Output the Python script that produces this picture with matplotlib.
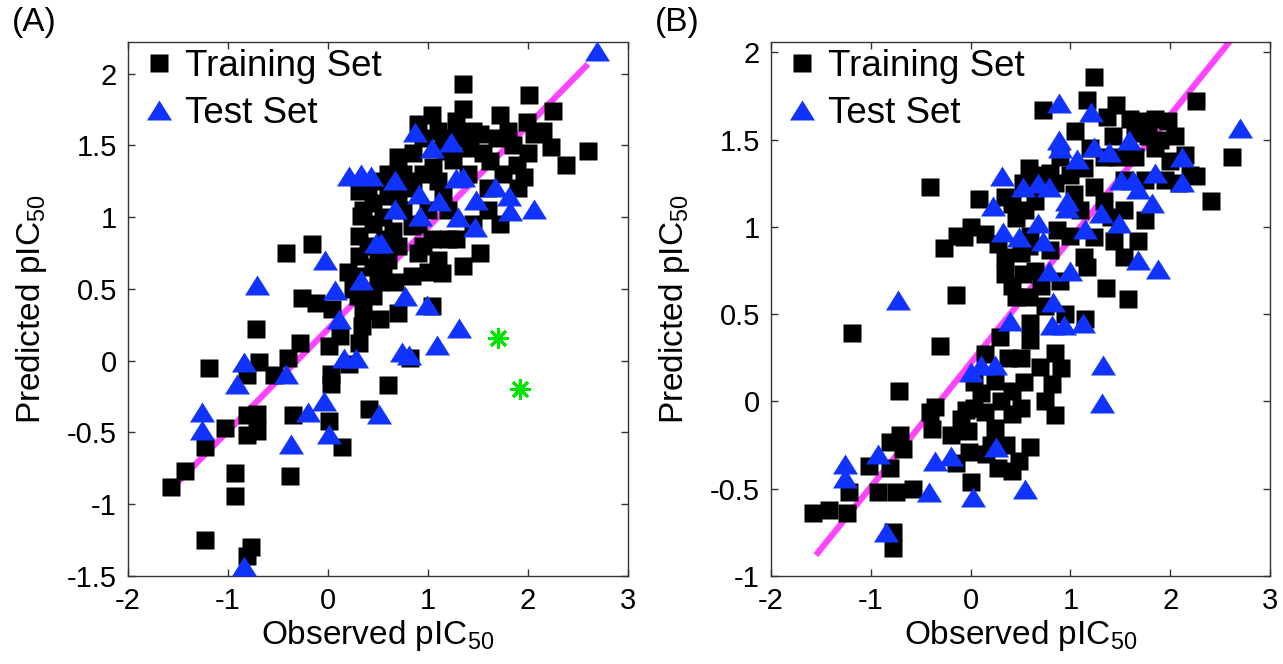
import numpy as np
import matplotlib
matplotlib.use("Agg")
import matplotlib.pyplot as plt
from matplotlib.path import Path

plt.rcParams['font.family'] = ['Liberation Sans', 'DejaVu Sans']
plt.rcParams['mathtext.fontset'] = 'custom'
plt.rcParams['mathtext.rm'] = 'Liberation Sans'
plt.rcParams['mathtext.it'] = 'Liberation Sans:italic'

# ---------------- data: panel A ----------------
a_train_x = [-0.42, -0.16, 0.31, 0.33, 0.31, 0.31, 0.28, -0.26,
             1.35, 2.01, 2.25, 2.60, 2.38, 1.96, 1.04, 1.35, 1.72, 1.99, 2.23, 1.69,
             1.52, 1.28, 0.70, 1.89, 1.62, 2.06, 1.42, 1.18,
             1.72, 1.52, 1.35, 1.14, 0.84, 0.67, 1.04, 1.28, 0.70, 0.84, 0.57,
             0.80, 0.60, 0.55, 0.95, 1.10, 1.20, 0.75, 0.45, 0.50, 0.90, 1.00, 1.45,
             1.60, 1.15, 0.95, 0.85, 0.50, 1.85, 2.15, 1.75,
             -0.72, -0.28, -0.40, -0.69, -0.81, -0.54, -1.19, 0.01, 0.12, 0.03, 0.03,
             -0.81, -0.71, -0.71, -0.81, -1.03, -1.23, -1.43, -1.57, -0.93, -0.93,
             -0.38, -0.35, 0.01, 0.14, -1.23, -0.77, -0.81, 0.41, 0.21, 0.31, 0.04,
             -0.12, 0.34, 0.70, 0.60, 0.52, 1.04, 0.82, 0.45, 0.35, 0.50, 0.25,
             0.35, 0.45, 0.40, 0.55, 0.60, 0.65, 0.70, 0.75, 0.85, 0.90, 1.00, 1.05,
             1.15, 1.20, 1.25, 1.40, 1.45, 1.55, 1.30, 0.90, 1.10, 0.60, 0.40, 0.45,
             0.95, 1.10, 1.60, 1.90, 2.00, 1.80, 0.30, 0.20]
a_train_y = [0.75, 0.81, 1.18, 1.01, 0.87, 0.73, 0.59, 0.44,
             1.93, 1.85, 1.74, 1.46, 1.36, 1.28, 1.71, 1.75, 1.71, 1.66, 1.49, 1.55,
             1.58, 1.67, 1.42, 1.36, 1.39, 1.58, 1.48, 1.46,
             0.95, 0.75, 0.66, 0.61, 0.59, 0.55, 0.85, 0.85, 0.80, 0.94, 0.85,
             1.25, 1.15, 1.00, 1.30, 1.25, 1.05, 1.05, 1.10, 0.70, 0.75, 0.62, 0.95,
             1.20, 1.55, 1.55, 1.45, 1.25, 1.50, 1.60, 1.30,
             0.22, 0.12, 0.02, -0.01, -0.10, -0.10, -0.05, 0.10, 0.17, -0.09, -0.16,
             -0.38, -0.37, -0.49, -0.52, -0.47, -0.60, -0.77, -0.88, -0.78, -0.94,
             -0.80, -0.38, -0.42, -0.60, -1.25, -1.30, -1.36, -0.34, -0.02, 0.12, 0.36,
             0.40, 0.24, 0.33, -0.17, 0.29, 0.38, 0.02, 0.45, 0.35, 0.55, 0.50,
             1.05, 0.95, 0.80, 0.60, 0.70, 0.90, 1.15, 1.30, 1.20, 0.95, 1.05, 1.35,
             1.15, 0.85, 1.40, 1.30, 1.60, 1.45, 1.55, 1.65, 1.60, 1.30, 1.20, 0.65,
             0.80, 0.70, 1.05, 1.20, 1.45, 1.60, 0.45, 0.62]

a_test_x = [0.21, 0.33, 0.43, -0.03, -0.71, 0.33, 0.07, 0.48,
            2.69, 0.87, 1.04, 1.23, 0.67, 0.91, 1.28, 1.35, 1.11, 1.67, 1.81, 1.48,
            1.30, 1.47, 1.82, 2.06, 0.92, 0.67, 0.53, 0.77, 0.99,
            -0.84, -0.91, -1.26, -1.26, -0.42, 0.11, 0.16, 0.28, -0.04, -0.20, 0.01,
            -0.37, -0.84, 0.51, 1.31, 1.09, 0.74, 0.81]
a_test_y = [1.29, 1.30, 1.29, 0.70, 0.53, 0.56, 0.49, 0.82,
            2.16, 1.59, 1.48, 1.52, 1.26, 1.16, 1.27, 1.28, 1.11, 1.21, 1.15, 1.12,
            1.00, 0.93, 1.04, 1.06, 1.01, 1.06, 0.82, 0.45, 0.39,
            -0.01, -0.16, -0.36, -0.48, -0.09, 0.29, 0.02, 0.02, -0.28, -0.36, -0.51,
            -0.58, -1.43, -0.37, 0.23, 0.11, 0.06, 0.04]

a_outlier_x = [1.70, 1.92]
a_outlier_y = [0.16, -0.20]

# ---------------- data: panel B ----------------
b_train_x = [-0.41, 0.08, 0.34, 0.41, 0.00, -0.14, -0.27, -0.07, 0.14, 0.27, 0.34, 0.34,
             0.41, -0.15,
             -1.19, -0.31, -0.72, -0.36, -0.39, -0.20, -0.03, -0.05, 0.03, 0.14, 0.24,
             -0.02, 0.00, 0.27, 0.41, 0.41, 0.41, 0.29, 0.37, 0.14, 0.03, 0.24, -0.71,
             -0.81, -0.68, -1.02, -0.81, -1.22, -0.93, -0.75, -0.58, -1.42, -1.58,
             -1.24, -0.78, -0.78, -0.41,
             1.24, 0.73, 1.17, 1.46, 1.37, 2.26, 2.62, 1.71, 1.85, 1.98, 2.05, 2.15,
             2.26, 2.41, 2.09, 1.78, 1.65, 1.43, 1.48, 1.34, 1.65, 1.54, 1.75, 1.95,
             1.14, 0.90, 0.59, 0.53, 0.80, 1.04, 1.24, 1.34, 1.41, 1.54, 1.75, 1.68,
             1.44, 1.24, 0.87, 0.80, 0.59, 1.14, 0.90, 0.71, 0.53, 1.17, 1.54, 1.36,
             1.58, 0.59,
             0.60, 1.15, 0.85, 0.91, 0.82, 0.54, 0.50, 0.85, 0.60, 0.48,
             0.45, 0.55, 0.65, 0.70, 0.85, 0.60, 0.50, 0.45, 0.65, 0.75, 1.00, 1.10,
             1.00, 0.95, 1.20, 1.05, 0.20, 0.10, -0.10, 0.30, 0.15, -0.15, 0.35, 0.50,
             0.60, 0.70, 0.75, 1.85, 1.60, 2.00, 1.90, 2.20]
b_train_y = [1.23, 1.16, 1.17, 1.13, 1.00, 0.95, 0.88, 0.94, 0.96, 0.90, 0.83, 0.73,
             0.66, 0.61,
             0.39, 0.32, 0.06, -0.03, -0.16, -0.19, -0.17, -0.05, -0.04, -0.06, -0.15,
             -0.29, -0.46, -0.38, -0.40, -0.07, 0.06, 0.37, 0.25, 0.27, 0.11, 0.12, -0.19,
             -0.23, -0.27, -0.37, -0.38, -0.52, -0.52, -0.52, -0.50, -0.62, -0.64,
             -0.64, -0.75, -0.84, -0.06,
             1.86, 1.67, 1.73, 1.70, 1.63, 1.72, 1.40, 1.61, 1.62, 1.61, 1.52, 1.41,
             1.29, 1.15, 1.25, 1.52, 1.54, 1.52, 1.40, 1.40, 1.40, 1.27, 1.27, 1.27,
             1.34, 1.40, 1.34, 1.25, 1.31, 1.19, 1.23, 1.15, 1.06, 1.10, 1.04, 0.92,
             0.92, 0.94, 0.98, 0.87, 0.89, 0.83, 0.69, 0.66, 0.73, 0.77, 0.83, 0.65,
             0.59, 0.60,
             0.45, 0.47, 0.28, 0.19, 0.10, 0.11, -0.04, -0.08, -0.26, -0.34,
             1.05, 1.10, 1.15, 1.30, 1.25, 0.95, 0.85, 0.60, 0.75, 0.55, 0.95, 1.10,
             1.30, 0.50, 1.45, 1.55, -0.25, 0.05, -0.10, 0.00, -0.30, -0.35, -0.25, 0.25,
             0.35, 0.20, 0.00, 1.45, 1.62, 1.38, 1.50, 1.30]

b_test_x = [0.31, 0.22, 0.32, -0.73,
            0.10, 0.24, 0.00, 0.39, 0.25, 0.02, -0.42, -0.20, -0.36, -0.93, -1.26,
            -1.26, -0.85,
            0.89, 1.21, 2.70, 0.89, 0.90, 1.24, 1.39, 1.07, 1.59, 2.12, 1.85, 2.12,
            1.51, 1.63, 1.68, 1.82, 0.53, 0.68, 0.79, 0.97, 0.97, 1.31, 1.49, 1.15,
            0.68, 0.73, 0.48, 1.68, 1.88, 0.79, 1.00, 0.83,
            0.82, 0.94, 1.13, 1.33, 1.32, 0.55]
b_test_y = [1.29, 1.12, 0.97, 0.58,
            0.21, 0.21, 0.17, 0.46, -0.26, -0.55, -0.52, -0.31, -0.34, -0.30, -0.36,
            -0.44, -0.75,
            1.71, 1.66, 1.57, 1.50, 1.45, 1.46, 1.43, 1.39, 1.50, 1.40, 1.31, 1.26,
            1.27, 1.27, 1.22, 1.14, 1.23, 1.25, 1.23, 1.15, 1.11, 1.08, 1.02, 0.99,
            1.02, 0.92, 0.94, 0.81, 0.76, 0.75, 0.75, 0.57,
            0.44, 0.44, 0.45, 0.21, -0.01, -0.50]

# fitted line (predicted = slope * observed + intercept)
fit_slope = 0.71
fit_intercept = 0.22
fit_x = [-1.55, 2.60]

# ---------------- styling ----------------
BLUE = '#1133FF'
MAGENTA = '#FF44FF'
GREEN = '#00E600'
tri = Path([(0, 0.8), (-1, -0.8), (1, -0.8), (0, 0.8)],
           [Path.MOVETO, Path.LINETO, Path.LINETO, Path.CLOSEPOLY])
SQ_SIZE = 13.5
TRI_SIZE = 18

fig = plt.figure(figsize=(12.83, 6.64), dpi=100)
W, H = 1283, 664
axA = fig.add_axes([128 / W, (H - 576) / H, 500 / W, 534 / H])
axB = fig.add_axes([771 / W, (H - 576) / H, 499 / W, 534 / H])


def draw_panel(ax, tx, ty, sx, sy, ylim, yticks, yticklabels):
    fx = np.array(fit_x)
    ax.plot(fx, fit_slope * fx + fit_intercept, color=MAGENTA, lw=4.5,
            solid_capstyle='butt', zorder=1)
    ax.plot(tx, ty, ls='none', marker='s', ms=SQ_SIZE, mfc='black', mec='none',
            label='Training Set', zorder=2)
    ax.plot(sx, sy, ls='none', marker=tri, ms=TRI_SIZE, mfc=BLUE, mec='none',
            label='Test Set', zorder=3)
    ax.set_xlim(-2, 3)
    ax.set_ylim(*ylim)
    ax.set_xticks([-2, -1, 0, 1, 2, 3])
    ax.set_xticklabels(['-2', '-1', '0', '1', '2', '3'])
    ax.set_yticks(yticks)
    ax.set_yticklabels(yticklabels)
    ax.tick_params(direction='in', top=True, right=True, length=5, width=1,
                   labelsize=21, pad=8, color='#333333')
    for sp in ax.spines.values():
        sp.set_linewidth(1.0)
        sp.set_color('#333333')
    ax.set_xlabel('Observed pIC$_{50}$', fontsize=24, labelpad=2)
    ax.set_ylabel('Predicted pIC$_{50}$', fontsize=24, labelpad=13)
    leg = ax.legend(loc='upper left', frameon=False, fontsize=26.5,
                    handletextpad=0.05, borderaxespad=0.05, labelspacing=0.32,
                    handlelength=1.3, borderpad=0.15)
    return leg


draw_panel(axA, a_train_x, a_train_y, a_test_x, a_test_y, (-1.5, 2.22),
           [-1.5, -1, -0.5, 0, 0.5, 1, 1.5, 2],
           ['-1.5', '-1', '-0.5', '0', '0.5', '1', '1.5', '2'])
axA.plot(a_outlier_x, a_outlier_y, ls='none', marker=(8, 2, 0), ms=15,
         mec=GREEN, mew=2.2, zorder=4)

draw_panel(axB, b_train_x, b_train_y, b_test_x, b_test_y, (-1, 2.06),
           [-1, -0.5, 0, 0.5, 1, 1.5, 2],
           ['-1', '-0.5', '0', '0.5', '1', '1.5', '2'])

fig.text(12 / W, 1 - 22 / H, '(A)', fontsize=24, va='center', ha='left')
fig.text(655 / W, 1 - 22 / H, '(B)', fontsize=24, va='center', ha='left')

fig.savefig('out.png', dpi=100)
